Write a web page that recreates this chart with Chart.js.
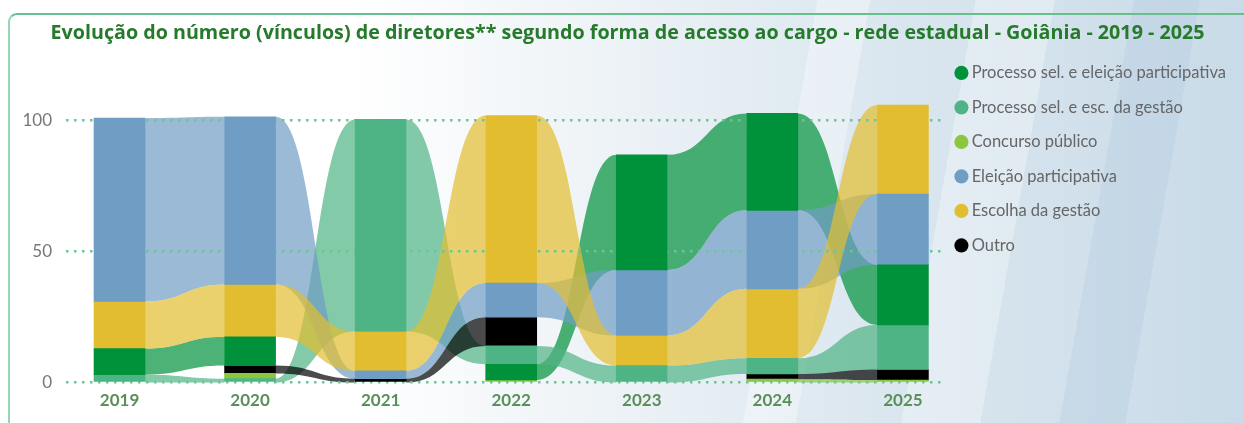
<!DOCTYPE html>
<html lang="pt-BR">
<head>
<meta charset="utf-8">
<title>Diretores por forma de acesso ao cargo - Goiânia</title>
<script src="https://cdn.jsdelivr.net/npm/chart.js@4.4.1/dist/chart.umd.min.js"></script>
<style>
  html, body { margin: 0; padding: 0; }
  body {
    width: 1244px; height: 423px; overflow: hidden; position: relative;
    background:
      linear-gradient(100deg, rgba(255,255,255,0) 0%, rgba(255,255,255,0) 62%,
        rgba(255,255,255,0.35) 62%, rgba(255,255,255,0.35) 66%,
        rgba(255,255,255,0) 66%, rgba(255,255,255,0) 74%,
        rgba(255,255,255,0.3) 74%, rgba(255,255,255,0.3) 80%,
        rgba(255,255,255,0) 80%, rgba(255,255,255,0) 86%,
        rgba(170,195,220,0.25) 86%, rgba(170,195,220,0.25) 91%,
        rgba(255,255,255,0) 91%),
      linear-gradient(90deg, #ffffff 0%, #ffffff 28%, #eef3f7 48%, #dde8f0 68%, #c9dbe8 100%);
  }
  .card {
    position: absolute; left: 8px; top: 13px; width: 1260px; height: 440px;
    border-top: 2px solid #66bf8d; border-left: 2px solid #98d5b4;
    border-top-left-radius: 9px;
  }
  #wrap { position: absolute; left: 0; top: 0; width: 1244px; height: 423px; }
</style>
</head>
<body>
<div class="card"></div>
<div id="wrap"><canvas id="grafico" width="1244" height="423"></canvas></div>
<script>
// Anos e número de vínculos de diretores por forma de acesso
const anos = ['2019', '2020', '2021', '2022', '2023', '2024', '2025'];
const selEleicao = [10, 11, 0, 6, 44, 37, 23];     // Processo sel. e eleição participativa
const selEscolha = [3, 1.5, 81, 7, 6.5, 6, 17];    // Processo sel. e esc. da gestão
const concurso   = [0, 2, 0, 1, 0, 1.3, 1];        // Concurso público
const eleicao    = [70, 64, 3, 13, 25, 30, 27];    // Eleição participativa
const escolha    = [18, 20, 15, 64, 11.5, 26.5, 34]; // Escolha da gestão
const outro      = [0, 3, 1.5, 11, 0, 2, 4];       // Outro
const yTicks = [0, 50, 100];

const series = [
  { nome: 'Processo sel. e eleição participativa', valores: selEleicao, cor: '#00923a' },
  { nome: 'Processo sel. e esc. da gestão',        valores: selEscolha, cor: '#4fb485' },
  { nome: 'Concurso público',                      valores: concurso,   cor: '#8cc63f' },
  { nome: 'Eleição participativa',                 valores: eleicao,    cor: '#6f9dc4' },
  { nome: 'Escolha da gestão',                     valores: escolha,    cor: '#e2bd2f' },
  { nome: 'Outro',                                 valores: outro,      cor: '#000000' }
];

// Empilhamento por ranking: em cada ano o maior valor fica no topo
const faixas = series.map(() => []);
anos.forEach((_, i) => {
  const ordem = series.map((s, k) => k)
    .filter(k => series[k].valores[i] > 0)
    .sort((a, b) => series[a].valores[i] - series[b].valores[i]);
  let base = 0;
  ordem.forEach(k => {
    const v = series[k].valores[i];
    faixas[k][i] = [base, base + v];
    base += v;
  });
});

function rgba(hex, a) {
  const n = parseInt(hex.slice(1), 16);
  return `rgba(${(n >> 16) & 255},${(n >> 8) & 255},${n & 255},${a})`;
}

// Fitas que ligam a posição de cada categoria entre anos consecutivos
const fitas = {
  id: 'fitas',
  beforeDraw(chart) {
    const { ctx, scales: { x, y } } = chart;
    ctx.save();
    series.forEach((s, k) => {
      const meta = chart.getDatasetMeta(k);
      if (!meta.data.length) return;
      const meia = meta.data[0].width / 2;
      for (let i = 0; i < anos.length - 1; i++) {
        const a = faixas[k][i], b = faixas[k][i + 1];
        if (!a || !b) continue;
        const x0 = x.getPixelForValue(i) + meia;
        const x1 = x.getPixelForValue(i + 1) - meia;
        const xm = (x0 + x1) / 2;
        const t0 = y.getPixelForValue(a[1]), b0 = y.getPixelForValue(a[0]);
        const t1 = y.getPixelForValue(b[1]), b1 = y.getPixelForValue(b[0]);
        ctx.beginPath();
        ctx.moveTo(x0, t0);
        ctx.bezierCurveTo(xm, t0, xm, t1, x1, t1);
        ctx.lineTo(x1, b1);
        ctx.bezierCurveTo(xm, b1, xm, b0, x0, b0);
        ctx.closePath();
        ctx.fillStyle = rgba(s.cor, 0.7);
        ctx.fill();
      }
    });
    ctx.restore();
  }
};

const datasets = series.map((s, k) => ({
  label: s.nome,
  data: anos.map((_, i) => faixas[k][i] ? { x: i, y: faixas[k][i] } : null).filter(Boolean),
  backgroundColor: s.cor,
  borderWidth: 0,
  grouped: false,
  maxBarThickness: 51,
  barPercentage: 1,
  categoryPercentage: 1
}));

new Chart(document.getElementById('grafico'), {
  type: 'bar',
  data: { datasets },
  plugins: [fitas],
  options: {
    responsive: false,
    animation: false,
    layout: { padding: { left: 19, right: 8, top: 0, bottom: 4 } },
    scales: {
      x: {
        type: 'linear',
        min: -0.41,
        max: 6.295,
        offset: false,
        afterBuildTicks: sc => { sc.ticks = anos.map((_, i) => ({ value: i })); },
        ticks: {
          callback: (v, i) => anos[i],
          color: '#5b8f5a',
          font: { family: 'Lato', size: 17, weight: 'bold' },
          padding: 8,
          autoSkip: false,
          maxRotation: 0
        },
        grid: { display: false, drawTicks: false },
        border: { display: false }
      },
      y: {
        min: 0,
        max: 128.3,
        afterBuildTicks: sc => { sc.ticks = yTicks.map(v => ({ value: v })); },
        afterFit: sc => { sc.width = 47; },
        ticks: {
          color: '#777777',
          font: { family: 'Lato', size: 17 },
          padding: 14
        },
        grid: { color: '#6cc497', lineWidth: 2.5, drawTicks: false },
        border: { display: false, dash: [2.5, 5.5] }
      }
    },
    plugins: {
      title: {
        display: true,
        text: 'Evolução do número (vínculos) de diretores** segundo forma de acesso ao cargo - rede estadual - Goiânia - 2019 - 2025',
        color: '#267a2c',
        font: { family: 'Open Sans', size: 19.7, weight: 'bold', lineHeight: 1.2 },
        padding: { top: 22, bottom: 1 }
      },
      legend: {
        position: 'right',
        align: 'start',
        fullSize: false,
        labels: {
          usePointStyle: true,
          pointStyle: 'circle',
          boxWidth: 4,
          boxHeight: 10,
          padding: 18,
          color: '#666666',
          font: { family: 'Lato', size: 16.5 }
        }
      },
      tooltip: { enabled: false }
    }
  }
});
</script>
</body>
</html>
